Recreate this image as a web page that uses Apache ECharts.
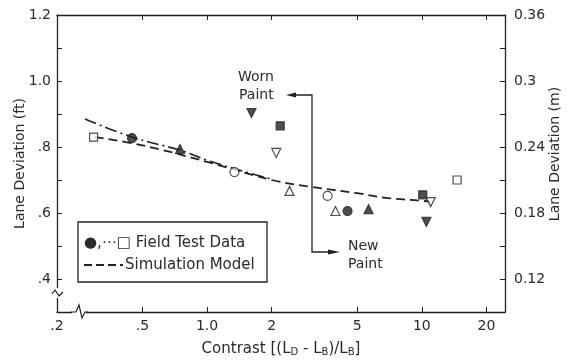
<!DOCTYPE html>
<html><head><meta charset="utf-8">
<script src="https://cdn.jsdelivr.net/npm/echarts@6/dist/echarts.min.js"></script>
<style>html,body{margin:0;padding:0;background:#fff}#c{width:567px;height:360px}</style>
</head><body><div id="c"></div>
<script>
// ---- tick values / labels ----
const xTicks = [0.2, 0.5, 1, 2, 5, 10, 20];
const xTickLabels = ['.2', '.5', '1.0', '2', '5', '10', '20'];
const yTicksFt = [0.4, 0.6, 0.8, 1.0, 1.2];
const yTickLabelsFt = ['.4', '.6', '.8', '1.0', '1.2'];
const yTickMarksFt = [0.4, 0.5, 0.6, 0.7, 0.8, 0.9, 1.0, 1.1, 1.2];
const yTicksM = [0.12, 0.18, 0.24, 0.3, 0.36];
const yTickLabelsM = ['0.12', '0.18', '0.24', '0.3', '0.36'];
const yTickMarksM = [0.12, 0.15, 0.18, 0.21, 0.24, 0.27, 0.3, 0.33, 0.36];

// ---- field test data [contrast, lane deviation ft] ----
const filledCircle = [[0.447, 0.827], [4.51, 0.606]];
const openCircle = [[1.34, 0.724], [3.64, 0.652]];
const filledTriangle = [[0.748, 0.794], [5.65, 0.612]];
const openTriangle = [[2.42, 0.667], [3.96, 0.606]];
const filledSquare = [[2.19, 0.864], [10.1, 0.655]];
const openSquare = [[0.296, 0.83], [14.6, 0.70]];
const filledInvTriangle = [[1.61, 0.903], [10.5, 0.573]];
const openInvTriangle = [[2.10, 0.782], [11.0, 0.633]];

// ---- curves ----
const simModel = [[0.3, 0.83], [0.5, 0.805], [1, 0.755], [2, 0.70], [3, 0.68], [5, 0.66], [7, 0.645], [10, 0.637], [11, 0.634]];
const fieldFit = [[0.27, 0.885], [0.447, 0.83], [0.75, 0.79], [1, 0.76], [1.5, 0.725], [2, 0.703]];

const FONT = 'DejaVu Sans';
const INK = '#222';
const TXT = '#2a2a2a';

function lab(ticks, labels) {
  return v => {
    const i = ticks.findIndex(t => Math.abs(t - v) <= 1e-6 * Math.max(1, Math.abs(t)));
    return i >= 0 ? labels[i] : '';
  };
}

function markers(data, symbol, filled, rot) {
  return {
    type: 'scatter', data: data, symbol: symbol, symbolSize: symbol === 'rect' ? 8 : 9,
    symbolRotate: rot || 0, xAxisIndex: 0, yAxisIndex: 0, z: 5,
    itemStyle: { color: filled ? INK : '#fff', borderColor: INK, borderWidth: 1.2 }
  };
}

const chart = echarts.init(document.getElementById('c'), null, { renderer: 'canvas' });
const axisLineStyle = { color: INK, width: 1.3 };

chart.setOption({
  animation: false,
  backgroundColor: '#fff',
  textStyle: { fontFamily: FONT },
  grid: { left: 57, right: 62, top: 15, bottom: 48, containLabel: false, outerBoundsMode: 'none' },
  xAxis: [
    {
      type: 'log', logBase: 10, min: 0.2, max: 24.4, position: 'bottom',
      axisLine: { show: true, lineStyle: axisLineStyle },
      axisTick: { show: true, inside: true, length: 5, customValues: xTicks, lineStyle: { color: INK } },
      axisLabel: { customValues: xTicks, formatter: lab(xTicks, xTickLabels), fontFamily: FONT, fontSize: 14, color: TXT, margin: 7 },
      splitLine: { show: false }, minorTick: { show: false },
      name: 'Contrast [(L{s|D} - L{s|B})/L{s|B}]', nameLocation: 'middle', nameGap: 29,
      nameTextStyle: { fontFamily: FONT, fontSize: 15, color: TXT,
        rich: { s: { fontFamily: FONT, fontSize: 10, color: TXT, verticalAlign: 'bottom', padding: [6, 0, 0, 0] } } }
    },
    {
      type: 'log', logBase: 10, min: 0.2, max: 24.4, position: 'top',
      axisLine: { show: true, lineStyle: axisLineStyle },
      axisTick: { show: true, inside: true, length: 5, customValues: xTicks, lineStyle: { color: INK } },
      axisLabel: { show: false }, splitLine: { show: false }
    }
  ],
  yAxis: [
    {
      type: 'value', min: 0.3, max: 1.2, position: 'left',
      axisLine: { show: true, lineStyle: axisLineStyle },
      axisTick: { show: true, inside: true, length: 5, customValues: yTickMarksFt, lineStyle: { color: INK } },
      axisLabel: { customValues: yTicksFt, formatter: lab(yTicksFt, yTickLabelsFt), fontFamily: FONT, fontSize: 14, color: TXT, margin: 6 },
      splitLine: { show: false },
      name: 'Lane Deviation (ft)', nameLocation: 'middle', nameGap: 30, nameMoveOverlap: false,
      nameTextStyle: { fontFamily: FONT, fontSize: 14, color: TXT }
    },
    {
      type: 'value', min: 0.09, max: 0.36, position: 'right',
      axisLine: { show: true, lineStyle: axisLineStyle },
      axisTick: { show: true, inside: true, length: 5, customValues: yTickMarksM, lineStyle: { color: INK } },
      axisLabel: { customValues: yTicksM, formatter: lab(yTicksM, yTickLabelsM), fontFamily: FONT, fontSize: 14, color: TXT, margin: 9 },
      splitLine: { show: false }
    }
  ],
  series: [
    {
      type: 'line', data: fieldFit, smooth: 0.4, showSymbol: false, z: 3,
      lineStyle: { color: INK, width: 1.6, type: [12, 4, 2, 4] }
    },
    {
      type: 'line', data: simModel, smooth: 0.4, showSymbol: false, z: 3,
      lineStyle: { color: INK, width: 1.8, type: [9, 5] }
    },
    markers(filledCircle, 'circle', true),
    markers(openCircle, 'circle', false),
    markers(filledTriangle, 'triangle', true),
    markers(openTriangle, 'triangle', false),
    markers(filledSquare, 'rect', true),
    markers(openSquare, 'rect', false),
    markers(filledInvTriangle, 'triangle', true, 180),
    markers(openInvTriangle, 'triangle', false, 180)
  ],
  graphic: [
    // right axis title
    { type: 'text', x: 555, y: 154, rotation: Math.PI / 2,
      style: { text: 'Lane Deviation (m)', fontFamily: FONT, fontSize: 14, fill: TXT, align: 'center', verticalAlign: 'middle' } },
    // y-axis break
    { type: 'rect', shape: { x: 52, y: 288, width: 11, height: 10 }, style: { fill: '#fff' }, z: 100 },
    { type: 'polyline', shape: { points: [[52, 294], [55, 290], [59, 296], [63, 292]] }, style: { stroke: INK, lineWidth: 1.2, fill: null }, z: 101 },
    // x-axis break
    { type: 'rect', shape: { x: 72, y: 306, width: 14, height: 12 }, style: { fill: '#fff' }, z: 100 },
    { type: 'polyline', shape: { points: [[71, 312], [76, 312], [79, 305], [82, 318], [85, 312], [88, 312]] }, style: { stroke: INK, lineWidth: 1.2, fill: null }, z: 101 },
    // Worn paint annotation
    { type: 'text', x: 238, y: 77, style: { text: 'Worn', fontFamily: FONT, fontSize: 14, fill: TXT, align: 'left', verticalAlign: 'middle' } },
    { type: 'text', x: 239, y: 95, style: { text: 'Paint', fontFamily: FONT, fontSize: 14, fill: TXT, align: 'left', verticalAlign: 'middle' } },
    { type: 'polyline', shape: { points: [[293, 95], [312, 95], [312, 252], [330, 252]] }, style: { stroke: INK, lineWidth: 1.3, fill: null } },
    { type: 'polygon', shape: { points: [[286, 95], [296, 92.5], [296, 97.5]] }, style: { fill: INK } },
    { type: 'polygon', shape: { points: [[340, 252], [328, 249.5], [328, 254.5]] }, style: { fill: INK } },
    { type: 'text', x: 348, y: 246, style: { text: 'New', fontFamily: FONT, fontSize: 14, fill: TXT, align: 'left', verticalAlign: 'middle' } },
    { type: 'text', x: 348, y: 264, style: { text: 'Paint', fontFamily: FONT, fontSize: 14, fill: TXT, align: 'left', verticalAlign: 'middle' } },
    // legend box
    { type: 'rect', shape: { x: 78, y: 222, width: 189, height: 60 }, style: { fill: '#fff', stroke: INK, lineWidth: 1.3 }, z: 50 },
    { type: 'text', x: 84, y: 243, z: 51, style: { text: '●,⋯□ Field Test Data', fontFamily: FONT, fontSize: 15, fill: TXT, align: 'left', verticalAlign: 'middle' } },
    { type: 'line', shape: { x1: 84, y1: 265, x2: 123, y2: 265 }, z: 51, style: { stroke: INK, lineWidth: 2, lineDash: [8, 4] } },
    { type: 'text', x: 125, y: 265, z: 51, style: { text: 'Simulation Model', fontFamily: FONT, fontSize: 15, fill: TXT, align: 'left', verticalAlign: 'middle' } }
  ]
});
</script>
</body></html>
